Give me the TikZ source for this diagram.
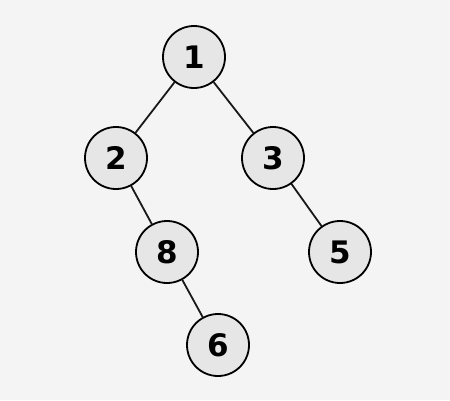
\documentclass[tikz,border=0pt]{standalone}
\usepackage{fontspec}
\newfontfamily\keyfont{DejaVu Sans}
\usetikzlibrary{positioning}
\definecolor{bgcol}{HTML}{F4F4F4}
\definecolor{keycol}{HTML}{E6E6E6}

\begin{document}
\begin{tikzpicture}[x=1pt,y=-1pt,
  key/.style={circle,draw=black,fill=keycol,line width=1.8pt,minimum size=62pt,inner sep=0pt,font=\keyfont\bfseries\fontsize{31}{33}\selectfont},
  branch/.style={line width=1.8pt,black!90}]
\fill[bgcol] (0,0) rectangle (450,400);
\useasboundingbox (0,0) rectangle (450,400);
\node (n1) at (194,57) [key] {1};
\node (n2) at (116,158) [key] {2};
\node (n3) at (273,158) [key] {3};
\node (n8) at (167,252) [key] {8};
\node (n5) at (340,252) [key] {5};
\node (n6) at (218,345) [key] {6};
% branches
\draw[branch] (n1) -- (n2);
\draw[branch] (n1) -- (n3);
\draw[branch] (n2) -- (n8);
\draw[branch] (n8) -- (n6);
\draw[branch] (n3) -- (n5);
\end{tikzpicture}
\end{document}
